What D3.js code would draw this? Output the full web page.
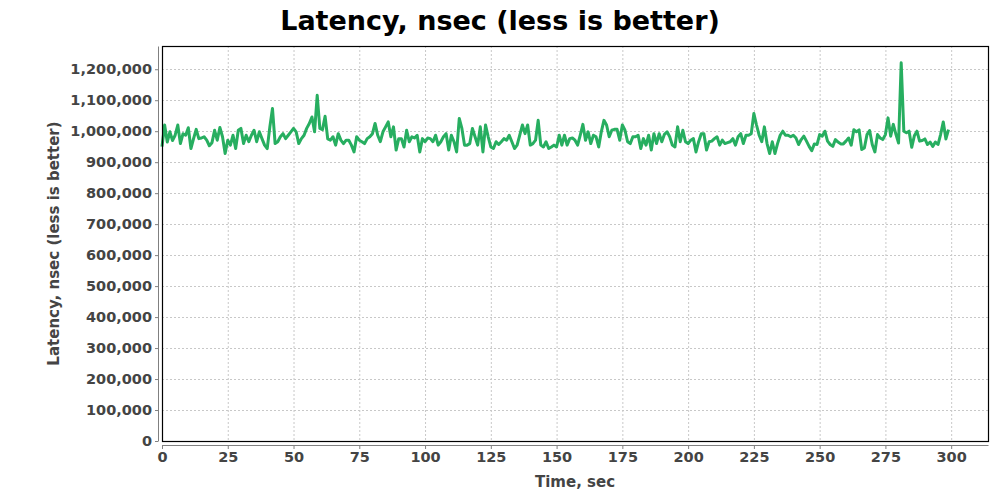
<html>
<head>
  <title>Latency, nsec (less is better)</title>
  <script src="https://d3js.org/d3.v7.min.js"></script>
  <style>
  body { margin: 0; background: #fff; }
  .grid line { stroke: #c8c8c8; stroke-width: 1px; stroke-dasharray: 2,2; }
  .axis path, .axis line { stroke: #808080; }
  .axis text { font-family: "DejaVu Sans", sans-serif; font-weight: bold; font-size: 14.5px; fill: #444; }
  .title { font-family: "DejaVu Sans", sans-serif; font-weight: bold; font-size: 27px; fill: #000; }
  .axis-label { font-family: "DejaVu Sans", sans-serif; font-weight: bold; font-size: 15px; fill: #444; }
  .latency { fill: none; stroke: #27ae60; stroke-width: 3px; stroke-linejoin: round; }
  </style>
</head>
<body>
  <svg id="chart" width="1000" height="500"></svg>
  <script>
// latency per second, nsec
const latency = [
  950000, 1020000, 965000, 998000, 970000, 987000, 1020000, 960000, 992000, 987000,
  1011000, 944000, 976000, 1006000, 976000, 978000, 982000, 971000, 953000, 963000,
  1003000, 971000, 1012000, 982000, 928000, 971000, 955000, 987000, 944000, 1003000,
  1009000, 960000, 987000, 966000, 987000, 1003000, 966000, 998000, 976000, 955000,
  944000, 1014000, 1073000, 960000, 966000, 982000, 992000, 976000, 987000, 998000,
  1009000, 998000, 960000, 976000, 987000, 1009000, 1025000, 1046000, 998000, 1116000,
  1009000, 1005000, 1048000, 975000, 971000, 982000, 955000, 992000, 971000, 960000,
  971000, 971000, 955000, 933000, 982000, 971000, 966000, 960000, 976000, 982000,
  992000, 1025000, 987000, 966000, 998000, 1014000, 1030000, 982000, 1014000, 939000,
  976000, 976000, 949000, 1003000, 966000, 982000, 978000, 987000, 933000, 976000,
  966000, 978000, 976000, 966000, 987000, 955000, 966000, 982000, 992000, 939000,
  987000, 966000, 933000, 1041000, 1009000, 955000, 955000, 960000, 1009000, 982000,
  955000, 1014000, 933000, 1020000, 982000, 949000, 944000, 966000, 957000, 966000,
  976000, 971000, 987000, 966000, 944000, 955000, 987000, 1020000, 992000, 1020000,
  955000, 960000, 971000, 1035000, 955000, 949000, 966000, 944000, 949000, 955000,
  949000, 987000, 955000, 987000, 955000, 976000, 978000, 971000, 955000, 987000,
  1022000, 971000, 998000, 960000, 987000, 982000, 949000, 998000, 1035000, 1020000,
  982000, 1003000, 1006000, 1006000, 971000, 1020000, 1003000, 966000, 960000, 982000,
  982000, 987000, 944000, 976000, 955000, 987000, 939000, 992000, 960000, 992000,
  966000, 990000, 998000, 982000, 955000, 949000, 1014000, 966000, 1003000, 966000,
  960000, 971000, 976000, 933000, 966000, 992000, 992000, 939000, 966000, 968000,
  976000, 982000, 955000, 971000, 960000, 963000, 966000, 976000, 955000, 982000,
  992000, 960000, 987000, 987000, 992000, 1057000, 1020000, 987000, 966000, 1014000,
  960000, 928000, 966000, 928000, 960000, 987000, 1000000, 987000, 987000, 982000,
  987000, 978000, 957000, 973000, 984000, 968000, 951000, 937000, 959000, 957000,
  989000, 984000, 1000000, 968000, 957000, 951000, 973000, 965000, 959000, 959000,
  968000, 978000, 955000, 1005000, 998000, 1004000, 941000, 946000, 989000, 1002000,
  957000, 933000, 989000, 978000, 973000, 989000, 1043000, 984000, 1022000, 990000,
  962000, 1221000, 1000000, 995000, 1000000, 948000, 985000, 1000000, 968000, 970000,
  975000, 957000, 965000, 951000, 965000, 957000, 990000, 1030000, 975000, 1005000
];
const xTicks = [0, 25, 50, 75, 100, 125, 150, 175, 200, 225, 250, 275, 300];
const yTicks = [0, 100000, 200000, 300000, 400000, 500000, 600000, 700000, 800000, 900000, 1000000, 1100000, 1200000];
const titleText = "Latency, nsec (less is better)";
const xLabelText = "Time, sec";
const yLabelText = "Latency, nsec (less is better)";

const svg = d3.select("#chart");
const plot = { left: 162, top: 46, right: 988, bottom: 441 };

const x = d3.scaleLinear().domain([0, 314]).range([plot.left, plot.right]);
const y = d3.scaleLinear().domain([0, 1275000]).range([plot.bottom, plot.top]);

// grid
const grid = svg.append("g").attr("class", "grid");
grid.selectAll(".gx").data(xTicks.slice(1)).enter().append("line")
  .attr("x1", d => x(d) + 0.5).attr("x2", d => x(d) + 0.5)
  .attr("y1", plot.top).attr("y2", plot.bottom);
grid.selectAll(".gy").data(yTicks.slice(1)).enter().append("line")
  .attr("x1", plot.left).attr("x2", plot.right)
  .attr("y1", d => Math.round(y(d)) + 0.5).attr("y2", d => Math.round(y(d)) + 0.5);

// line
const line = d3.line().x((d, i) => x(i)).y(d => y(d));
svg.append("path").datum(latency).attr("class", "latency").attr("d", line);

// plot outline
svg.append("rect")
  .attr("x", plot.left + 0.5).attr("y", plot.top + 0.5)
  .attr("width", plot.right - plot.left).attr("height", plot.bottom - plot.top)
  .attr("fill", "none").attr("stroke", "#000").attr("stroke-width", 1.2);

// axes, offset from the plot like JFreeChart
const xAxis = d3.axisBottom(x).tickValues(xTicks).tickSize(4).tickPadding(3).tickSizeOuter(0);
svg.append("g").attr("class", "axis")
  .attr("transform", "translate(0," + (plot.bottom + 4) + ")")
  .call(xAxis);

const yAxis = d3.axisLeft(y).tickValues(yTicks).tickSize(3).tickPadding(3).tickSizeOuter(0)
  .tickFormat(d3.format(","));
svg.append("g").attr("class", "axis")
  .attr("transform", "translate(" + (plot.left - 4) + ",0)")
  .call(yAxis);

// titles
svg.append("text").attr("class", "title")
  .attr("x", 500).attr("y", 30).attr("text-anchor", "middle").text(titleText);
svg.append("text").attr("class", "axis-label")
  .attr("x", (plot.left + plot.right) / 2).attr("y", 487).attr("text-anchor", "middle").text(xLabelText);
svg.append("text").attr("class", "axis-label")
  .attr("transform", "translate(59," + ((plot.top + plot.bottom) / 2) + ") rotate(-90)")
  .attr("text-anchor", "middle").text(yLabelText);
  </script>
</body>
</html>
